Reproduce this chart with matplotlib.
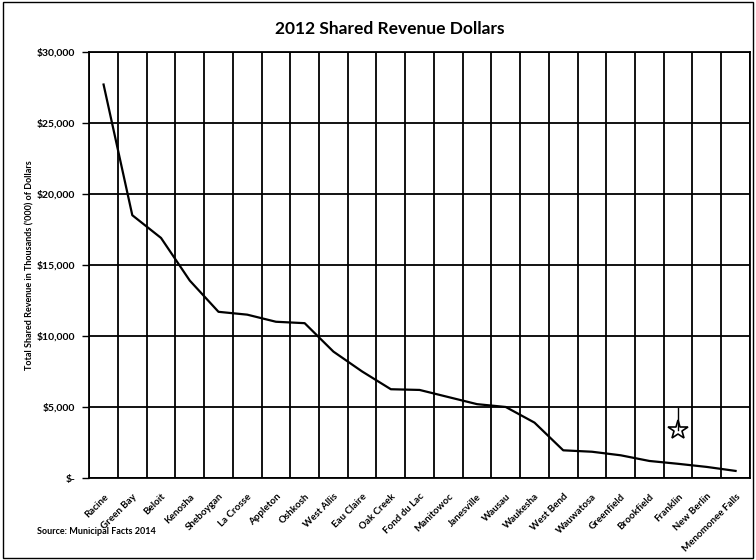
import matplotlib.pyplot as plt
import numpy as np

cities = ["Racine", "Green Bay", "Beloit", "Kenosha", "Sheboygan", "La Crosse",
          "Appleton", "Oshkosh", "West Allis", "Eau Claire", "Oak Creek",
          "Fond du Lac", "Manitowoc", "Janesville", "Wausau", "Waukesha",
          "West Bend", "Wauwatosa", "Greenfield", "Brookfield", "Franklin",
          "New Berlin", "Menomonee Falls"]
revenue = [27700, 18500, 16900, 13900, 11700, 11500, 11000, 10900, 8900, 7500,
           6250, 6200, 5700, 5200, 5000, 3900, 1950, 1850, 1600, 1200, 1000,
           780, 500]
y_ticks = [0, 5000, 10000, 15000, 20000, 25000, 30000]
y_tick_labels = ["$-", "$5,000", "$10,000", "$15,000", "$20,000", "$25,000", "$30,000"]
star_city = "Franklin"
star_value = 3350

plt.rcParams['font.family'] = ['Lato', 'DejaVu Sans']

fig = plt.figure(figsize=(7.56, 5.6), dpi=100)
ax = fig.add_axes([0.118, 0.1464, 0.874, 0.761])

x = np.arange(len(cities))
ax.plot(x, revenue, color='black', linewidth=1.6, zorder=3)

# hand drawn star over Franklin
i = cities.index(star_city)
ax.plot(i, star_value, marker='*', markersize=15, markerfacecolor='white',
        markeredgecolor='black', markeredgewidth=1.2, zorder=4)
ax.plot([i, i], [star_value, star_value + 1600], color='black', linewidth=1, zorder=4)

ax.set_xlim(-0.5, len(cities) - 0.5)
ax.set_ylim(0, 30000)
ax.set_yticks(y_ticks)
ax.set_yticklabels(y_tick_labels, fontsize=7.5, fontweight='bold')
ax.set_xticks(x)
ax.set_xticklabels(cities, rotation=45, ha='right', va='top', rotation_mode='anchor',
                   fontsize=7, fontweight='bold')
ax.tick_params(axis='x', length=0, pad=10)
ax.tick_params(axis='y', length=5, width=1, pad=5)

# gridlines at category boundaries and every 5000
for b in np.arange(-0.5, len(cities) + 0.5, 1):
    ax.axvline(b, color='black', linewidth=1.3, zorder=1)
for v in y_ticks:
    ax.axhline(v, color='black', linewidth=1.3, zorder=1)
for s in ax.spines.values():
    s.set_linewidth(1.3)

ax.set_ylabel("Total Shared Revenue in Thousands ('000) of Dollars", fontsize=6.5,
              fontweight='bold', labelpad=2)
fig.text(0.515, 0.948, "2012 Shared Revenue Dollars", ha='center', va='center',
         fontsize=12.5, fontweight='bold')
fig.text(0.049, 0.05, "Source: Municipal Facts 2014", fontsize=6.5, va='center',
         fontweight='bold')

# outer border of the chart area
fig.patches.append(plt.Rectangle((0.004, 0.004), 0.992, 0.992, transform=fig.transFigure,
                                 fill=False, edgecolor='black', linewidth=1))

plt.savefig("out.png", dpi=100)
